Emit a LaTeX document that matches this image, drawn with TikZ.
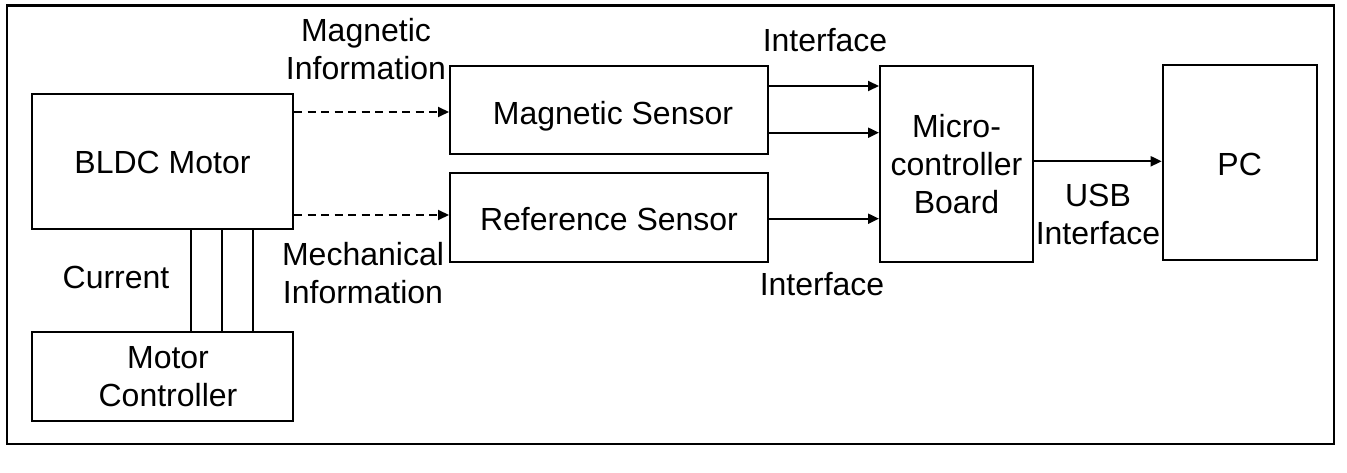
\documentclass[tikz,border=0pt]{standalone}
\usepackage{fontspec}
\setmainfont{Liberation Sans}
\usetikzlibrary{arrows.meta}
\tikzset{
  box/.style={draw, line width=2pt, inner sep=0pt, align=center, font=\fontsize{32}{38}\selectfont},
  onel/.style={text height=23pt, text depth=0pt},
  lbl/.style={inner sep=0pt, align=center, font=\fontsize{32}{38}\selectfont},
  sig/.style={line width=2pt, -{Triangle[length=11pt,width=10pt]}},
  dsig/.style={sig, dash pattern=on 8pt off 5.5pt},
  wire/.style={line width=2pt}
}
\begin{document}
\begin{tikzpicture}[x=1pt,y=-1pt]
\useasboundingbox (0,0) rectangle (1347,473);
\draw[line width=2.8pt] (7,5.5) rectangle (1334,444);
% boxes
\node[box, onel, minimum width=261pt, minimum height=135.5pt] (bldc) at (162.5,161.75) {BLDC Motor};
\node[box, minimum width=261pt, minimum height=89pt] (mc) at (162.5,376.5) {\raisebox{-2pt}{\parbox{200pt}{\centering\hspace*{11pt}Motor\\\hspace*{11pt}Controller}}};
\node[box, onel, minimum width=318pt, minimum height=88.3pt] (ms) at (609,110.2) {\raisebox{-2.5pt}{\hspace*{8pt}Magnetic Sensor}};
\node[box, onel, minimum width=318pt, minimum height=88.7pt] (rs) at (609,217.3) {\raisebox{-2pt}{Reference Sensor}};
\node[box, minimum width=153pt, minimum height=195.7pt] (mcu) at (956.5,163.8) {Micro-\\controller\\Board};
\node[box, onel, minimum width=154pt, minimum height=195.3pt] (pc) at (1239.7,162.7) {\raisebox{-1pt}{PC}};
% current wires
\foreach \xx/\nm in {190.7/wa,221.7/wb,252.7/wc}{
  \coordinate (\nm) at (\xx,0);
  \draw[wire] (bldc.south -| \nm) -- (mc.north -| \nm);
}
% dashed information arrows
\coordinate (ya) at (0,112);
\coordinate (yb) at (0,215);
\draw[dsig] (bldc.east |- ya) -- (ms.west |- ya);
\draw[dsig] (bldc.east |- yb) -- (rs.west |- yb);
% interface arrows
\coordinate (yc) at (0,86);
\coordinate (yd) at (0,132.7);
\coordinate (ye) at (0,218.7);
\draw[sig] (ms.east |- yc) -- (mcu.west |- yc);
\draw[sig] (ms.east |- yd) -- (mcu.west |- yd);
\draw[sig] (rs.east |- ye) -- (mcu.west |- ye);
\coordinate (yf) at (0,161.3);
\draw[sig] (mcu.east |- yf) -- (pc.west |- yf);
% labels
\node[lbl] (lmag) at (366,49.5) {Magnetic\\Information};
\node[lbl] (lmech) at (363,273.5) {Mechanical\\Information};
\node[lbl] (lcur) at (116,277.5) {Current};
\node[lbl] (lif1) at (825,40.5) {Interface};
\node[lbl] (lif2) at (822,284.5) {Interface};
\node[lbl] (lusb) at (1098,214) {USB\\Interface};
\end{tikzpicture}
\end{document}
